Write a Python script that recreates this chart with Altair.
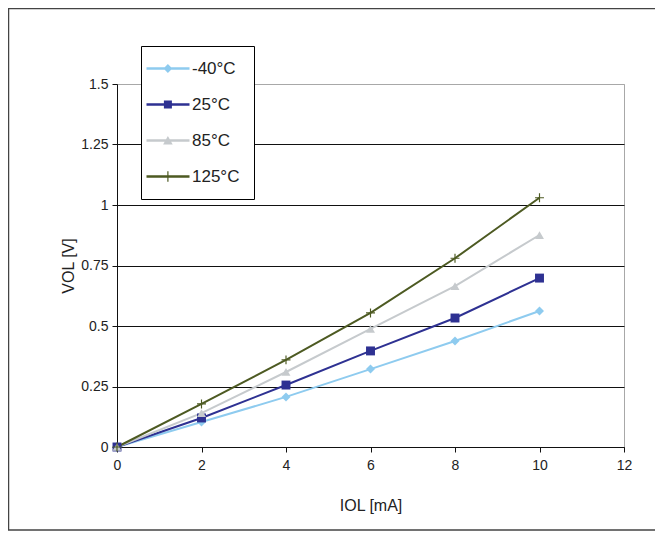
import altair as alt
import pandas as pd

# ---- data ----
currents = [0, 2, 4, 6, 8, 10]
series = ["-40°C", "25°C", "85°C", "125°C"]
v_m40 = [0.0, 0.103, 0.207, 0.322, 0.438, 0.562]
v_25 = [0.0, 0.120, 0.256, 0.397, 0.533, 0.698]
v_85 = [0.0, 0.140, 0.310, 0.488, 0.665, 0.876]
v_125 = [0.0, 0.178, 0.360, 0.554, 0.780, 1.030]
x_ticks = [0, 2, 4, 6, 8, 10, 12]
y_ticks = [0, 0.25, 0.5, 0.75, 1, 1.25, 1.5]

colors = ["#8ecbef", "#2e3192", "#c6cacd", "#4d5a22"]

values = [v_m40, v_25, v_85, v_125]
rows = []
for name, vals in zip(series, values):
    for i, v in zip(currents, vals):
        rows.append({"I": i, "V": v, "T": name})
df = pd.DataFrame(rows)

# marker shapes in the plot
plus_path = "M-1,-0.13H1V0.13H-1Z M-0.13,-1H0.13V1H-0.13Z"
shapes = ["diamond", "square", "triangle-up", plus_path]

# legend symbols: line + marker (units of 4 px)
line_part = "M-4.25,-0.3H6.5V0.3H-4.25Z "
leg_paths = [
    line_part + "M1.1,-1.15L2.2,0L1.1,1.15L0.0,0Z",
    line_part + "M0.1,-1H2.1V1H0.1Z",
    line_part + "M1.1,-1.1L2.3,1H-0.1Z",
    line_part + "M0.95,-1.3H1.25V1.3H0.95Z",
]

legend = alt.Legend(
    title=None,
    orient="none",
    legendX=24,
    legendY=-38,
    padding=14,
    strokeColor="black",
    fillColor="white",
    labelFontSize=17,
    labelFont="Liberation Sans",
    labelColor="#222222",
    labelOffset=20,
    rowPadding=18,
    symbolSize=64,
    symbolStrokeWidth=0,
    symbolOpacity=1,
)

x_enc = alt.X(
    "I:Q",
    scale=alt.Scale(domain=[0, 12], nice=False),
    axis=alt.Axis(
        values=x_ticks,
        title="IOL [mA]",
        grid=False,
        tickSize=5,
        labelPadding=6,
        labelFlush=False,
        titlePadding=25,
    ),
)
y_enc = alt.Y(
    "V:Q",
    scale=alt.Scale(domain=[0, 1.5], nice=False),
    axis=alt.Axis(
        values=y_ticks,
        format=".3~g",
        title="VOL [V]",
        grid=True,
        gridColor={"condition": {"test": "datum.value >= 1.5", "value": "#a8a8a8"}, "value": "#111111"},
        tickSize=5,
        labelPadding=4,
        labelFlush=False,
        titlePadding=4,
    ),
)

color_scale = alt.Scale(domain=series, range=colors)

base = alt.Chart(df)

lines = base.mark_line(strokeWidth=2).encode(
    x=x_enc, y=y_enc, color=alt.Color("T:N", scale=color_scale, legend=None)
)

points = base.mark_point(filled=True, opacity=1, size=80, strokeWidth=0).encode(
    x=x_enc,
    y=y_enc,
    color=alt.Color("T:N", scale=color_scale, legend=None),
    shape=alt.Shape("T:N", scale=alt.Scale(domain=series, range=shapes), legend=None),
)

# legend-only layer (no rows drawn): symbols combine line + marker
legend_layer = (
    base.transform_filter("datum.I < 0")
    .mark_point(filled=True, opacity=1, size=64, strokeWidth=0)
    .encode(
        x=x_enc,
        y=y_enc,
        color=alt.Color("T:N", scale=color_scale, legend=legend),
        shape=alt.Shape("T:N", scale=alt.Scale(domain=series, range=leg_paths), legend=legend),
    )
)

frame = alt.Chart(alt.Data(values=[{}])).mark_rect(
    fill=None, stroke="#444444", strokeWidth=1.5
).encode(
    x=alt.value(-108.5), x2=alt.value(580), y=alt.value(-75.5), y2=alt.value(446)
)

chart = (
    alt.layer(frame, lines, points, legend_layer)
    .resolve_scale(color="independent", shape="independent")
    .properties(
        width=507,
        height=363,
        autosize=alt.AutoSizeParams(type="none"),
        padding={"left": 109, "top": 76, "right": 31, "bottom": 84},
    )
    .configure(font="Liberation Sans")
    .configure_view(stroke="#a8a8a8", strokeWidth=1)
    .configure_axis(
        domainColor="#111111",
        tickColor="#111111",
        labelFontSize=14,
        labelColor="#222222",
        titleFontSize=16,
        titleFontWeight="normal",
        titleColor="#222222",
        gridWidth=1,
    )
)

chart.save("out.html", embed_options={"renderer": "svg", "actions": False})
